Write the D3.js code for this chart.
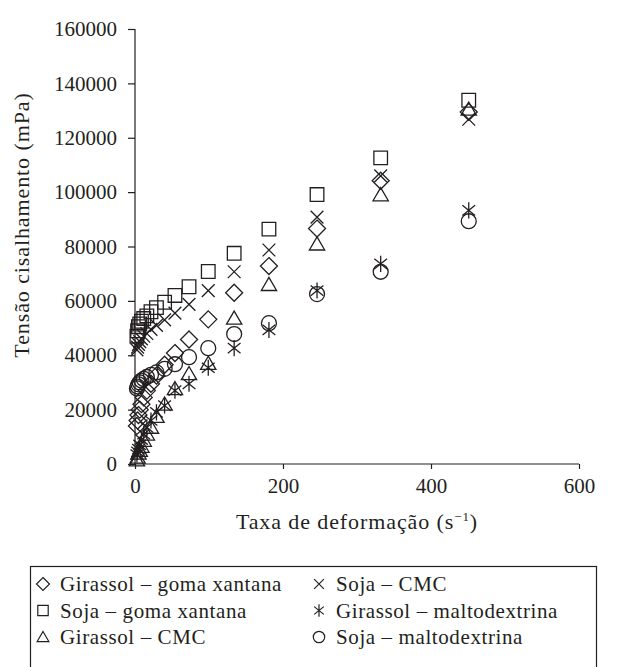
<!DOCTYPE html>
<html>
<head>
<meta charset="utf-8">
<script src="https://cdn.jsdelivr.net/npm/d3@7"></script>
<style>
  body { margin: 0; background: #fff; }
  text { font-family: "Liberation Serif", "DejaVu Serif", serif; fill: #231f20; }
</style>
</head>
<body>
<div id="chart"></div>
<script>
// shear rate (s^-1), shared by all series
const shearRate = [2.6, 3.5, 4.7, 6.4, 8.7, 11.8, 16, 21.6, 29, 40, 54, 73, 99, 134, 181, 246, 332, 451];

// shear stress (mPa)
const girassolGoma = [14000, 16000, 18000, 20000, 22000, 24500, 27000, 29500, 32500, 36500, 40800, 45800, 53200, 63000, 72800, 86600, 104200, 129500];
const sojaGoma     = [47000, 49000, 50500, 51500, 52500, 53500, 54500, 56000, 57500, 59500, 62000, 65200, 70800, 77500, 86400, 99100, 112600, 133800];
const girassolCMC  = [1500, 2500, 4000, 5000, 6500, 8700, 11000, 13500, 17500, 22000, 27700, 33200, 37000, 53600, 66000, 80900, 99000, 130500];
const sojaCMC      = [42000, 43000, 44000, 45000, 46000, 47000, 48000, 49500, 51000, 53000, 55500, 58700, 63800, 70700, 78700, 90800, 106000, 126800];
const girassolMalto = [3500, 4500, 5500, 7000, 9000, 11000, 13500, 16000, 19000, 21500, 27000, 29500, 35400, 42600, 49300, 63800, 73600, 93300];
const sojaMalto    = [27800, 28500, 29300, 30000, 30700, 31300, 32000, 32800, 33700, 35000, 36700, 39300, 42600, 47800, 51800, 62500, 70700, 89300];

const seriesNames = ["Girassol – goma xantana", "Soja – goma xantana", "Girassol – CMC",
                     "Soja – CMC", "Girassol – maltodextrina", "Soja – maltodextrina"];
const seriesShapes = ["diamond", "square", "triangle", "cross", "asterisk", "circle"];
const seriesValues = [girassolGoma, sojaGoma, girassolCMC, sojaCMC, girassolMalto, sojaMalto];

const xTicks = [0, 200, 400, 600];
const yTicks = [0, 20000, 40000, 60000, 80000, 100000, 120000, 140000, 160000];

const width = 623, height = 667;
const ink = "#231f20";
const tickFont = "21px";
const labelFont = "22px";
const labelSpacing = "0.9px";
margin = ({top: 29, right: 44, bottom: 203, left: 135});

const svg = d3.select("#chart").append("svg")
    .attr("width", width)
    .attr("height", height);

const x = d3.scaleLinear().domain([0, 600]).range([margin.left, width - margin.right]);
const y = d3.scaleLinear().domain([0, 160000]).range([height - margin.bottom, margin.top]);

// marker outline for a given shape, centred on 0,0, s = half size
function shapePath(shape, s) {
  const p = d3.path();
  switch (shape) {
    case "diamond":
      p.moveTo(0, -s); p.lineTo(s, 0); p.lineTo(0, s); p.lineTo(-s, 0); p.closePath();
      break;
    case "square":
      p.rect(-s * 0.8, -s * 0.8, s * 1.6, s * 1.6);
      break;
    case "triangle":
      p.moveTo(0, -s * 0.85); p.lineTo(s * 0.9, s * 0.7); p.lineTo(-s * 0.9, s * 0.7); p.closePath();
      break;
    case "circle":
      p.moveTo(s * 0.88, 0); p.arc(0, 0, s * 0.88, 0, 2 * Math.PI);
      break;
    case "cross":
      p.moveTo(-s * 0.75, -s * 0.75); p.lineTo(s * 0.75, s * 0.75);
      p.moveTo(s * 0.75, -s * 0.75); p.lineTo(-s * 0.75, s * 0.75);
      break;
    case "asterisk":
      p.moveTo(-s * 0.75, -s * 0.6); p.lineTo(s * 0.75, s * 0.6);
      p.moveTo(s * 0.75, -s * 0.6); p.lineTo(-s * 0.75, s * 0.6);
      p.moveTo(0, -s * 0.95); p.lineTo(0, s * 0.95);
      break;
  }
  return p.toString();
}

// axes
const xAxis = g => g
    .attr("transform", `translate(0,${y(0)})`)
    .call(d3.axisBottom(x).tickValues(xTicks).tickSize(5).tickPadding(9).tickFormat(d3.format("d")))
    .call(g => g.select(".domain").attr("d", `M${x(0)},0H${x(600)}`));

const yAxis = g => g
    .attr("transform", `translate(${x(0)},0)`)
    .call(d3.axisLeft(y).tickValues(yTicks).tickSize(7).tickPadding(11).tickFormat(d3.format("d")))
    .call(g => g.select(".domain").attr("d", `M0,${y(0)}V${y(160000)}`));

[xAxis, yAxis].forEach(ax => {
  svg.append("g").call(ax)
      .call(g => g.selectAll(".domain, .tick line").attr("stroke", ink).attr("stroke-width", 1.2))
      .call(g => g.selectAll("text")
          .style("font-family", '"Liberation Serif", serif')
          .style("font-size", tickFont)
          .attr("fill", ink));
});

svg.append("text")
    .attr("x", (x(0) + x(600)) / 2)
    .attr("y", 529)
    .attr("text-anchor", "middle")
    .style("font-size", labelFont)
    .style("letter-spacing", labelSpacing)
    .html('Taxa de deformação (s<tspan dy="-8" font-size="13">−1</tspan><tspan dy="8">)</tspan>');

svg.append("text")
    .attr("transform", `translate(29,225) rotate(-90)`)
    .attr("text-anchor", "middle")
    .style("font-size", labelFont)
    .style("letter-spacing", labelSpacing)
    .text("Tensão cisalhamento (mPa)");

// points
seriesValues.forEach((vals, i) => {
  svg.append("g")
    .selectAll("path")
    .data(vals.map((v, j) => ({x: shearRate[j], y: v})))
    .join("path")
      .attr("transform", d => `translate(${x(d.x)},${y(d.y)})`)
      .attr("d", shapePath(seriesShapes[i], 8.5))
      .attr("fill", "none")
      .attr("stroke", ink)
      .attr("stroke-width", 1.3);
});

// legend
const legend = svg.append("g");
legend.append("rect")
    .attr("x", 30.5).attr("y", 566.5)
    .attr("width", 566).attr("height", 110)
    .attr("fill", "none").attr("stroke", ink).attr("stroke-width", 1.2);

seriesNames.forEach((name, i) => {
  const col = Math.floor(i / 3), row = i % 3;
  const gx = col === 0 ? 43 : 319;
  const gy = 584 + row * 26.5;
  legend.append("path")
      .attr("transform", `translate(${gx},${gy})`)
      .attr("d", shapePath(seriesShapes[i], 6.5))
      .attr("fill", "none")
      .attr("stroke", ink)
      .attr("stroke-width", 1.2);
  legend.append("text")
      .attr("x", gx + 17)
      .attr("y", gy + 7)
      .style("font-size", "21px")
      .style("letter-spacing", "0.6px")
      .text(name);
});
</script>
</body>
</html>
